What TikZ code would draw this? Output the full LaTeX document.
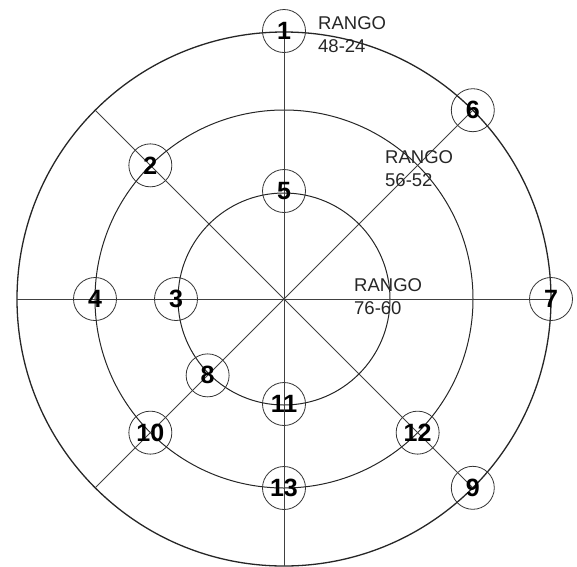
\documentclass[tikz,border=0pt]{standalone}
\usepackage{fontspec}
\setmainfont{Liberation Sans}
\usetikzlibrary{positioning}

\begin{document}
\begin{tikzpicture}[
  x=1pt, y=1pt,
  ring/.style={draw=black!85, line width=1pt},
  axis/.style={draw=black!75, line width=0.9pt},
  num/.style={circle, draw=black!80, line width=0.8pt, minimum size=43pt,
              inner sep=0pt},
  digit/.style={font=\fontsize{25}{25}\selectfont\bfseries},
  rng/.style={align=left, anchor=north west, inner sep=0pt,
              font=\fontsize{18.5}{23}\selectfont, text=black!85},
]
\useasboundingbox (-284,-267) rectangle (293,299);

\coordinate (o) at (0,0);
\draw[ring, line width=1.3pt] (o) circle (267);
\draw[ring] (o) circle (189);
\draw[ring] (o) circle (106);

% numbered points
\node[num] (n1) at (90:268) {};
\node[num] (n6) at (45:267) {};
\node[num] (n7) at (0:267) {};
\node[num] (n9) at (-45:267) {};
\node[num] (n2) at (135:189) {};
\node[num] (n4) at (180:189) {};
\node[num] (n10) at (225:189) {};
\node[num] (n13) at (270:189) {};
\node[num] (n12) at (315:189) {};
\node[num] (n3) at (180:108) {};
\node[num] (n5) at (90:108) {};
\node[num] (n8) at (225:108) {};
\node[num] (n11) at (270:105) {};

\coordinate (bot) at (0,-267);
\coordinate (lft) at (180:267);
\coordinate (ul) at (135:267);
\coordinate (ll) at (225:267);

\draw[axis] (n1.center) -- (bot);
\draw[axis] (lft) -- (n7.center);
\draw[axis] (ul) -- (n9.center);
\draw[axis] (ll) -- (n6.center);

\foreach \n in {1,...,13} \node[digit] at (n\n) {\n};

\node[rng] (r1) at (34,283) {RANGO\\48-24};
\node[rng] (r2) at (101,149) {RANGO\\56-52};
\node[rng] (r3) at (70,21) {RANGO\\76-60};
\end{tikzpicture}
\end{document}
